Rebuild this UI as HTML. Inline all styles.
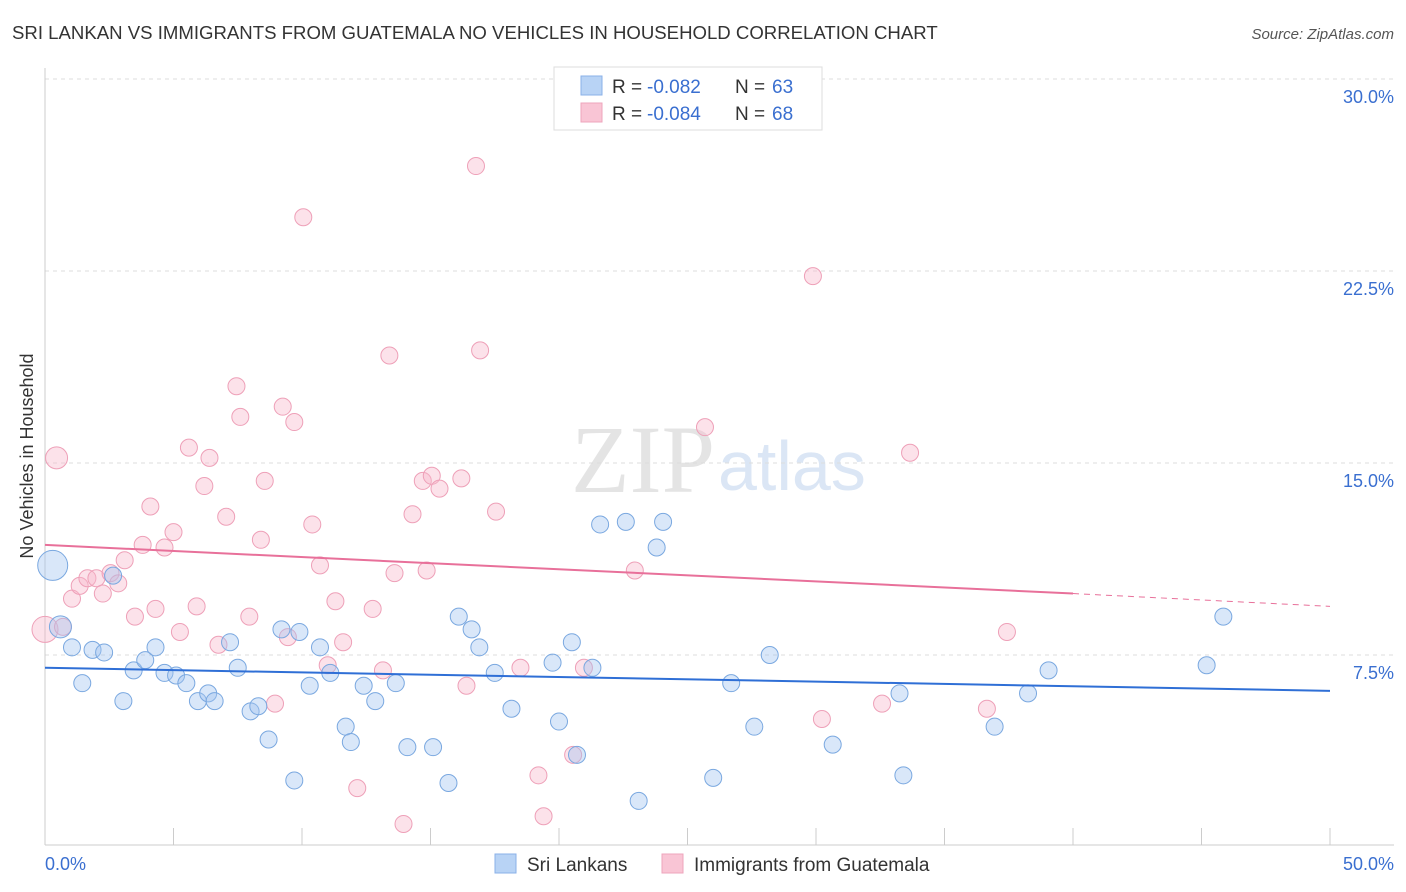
<!DOCTYPE html>
<html><head><meta charset="utf-8"><style>
body{margin:0;background:#fff;font-family:"Liberation Sans",sans-serif;}
svg{display:block}
</style></head><body>
<svg id="chart" width="1406" height="892" xmlns="http://www.w3.org/2000/svg">
<text x="12" y="39" font-size="18.6" fill="#333">SRI LANKAN VS IMMIGRANTS FROM GUATEMALA NO VEHICLES IN HOUSEHOLD CORRELATION CHART</text>
<text x="1394" y="39" font-size="15" fill="#555" font-style="italic" text-anchor="end">Source: ZipAtlas.com</text>
<text x="715" y="492" font-size="96" fill="#e4e4e4" text-anchor="end" font-family="Liberation Serif">ZIP</text>
<text x="718" y="490" font-size="70" fill="#dbe6f5">atlas</text>
<g id="grid"></g>
<g id="axes"></g>
<g id="pts"></g>
<g id="trend"></g>
<text x="33" y="456" font-size="18" fill="#333" text-anchor="middle" transform="rotate(-90 33 456)">No Vehicles in Household</text>
<text x="45" y="870" font-size="18" fill="#3a6fd0">0.0%</text>
<text x="1394" y="870" font-size="18" fill="#3a6fd0" text-anchor="end">50.0%</text>
<g>
<rect x="554" y="67" width="268" height="63" fill="#fff" stroke="#ddd"/>
<rect x="581" y="76" width="21" height="19" fill="#b8d3f5" stroke="#8ab0e8"/>
<text x="612" y="93" font-size="19" fill="#333">R =</text>
<text x="647" y="93" font-size="19" fill="#3a6fd0">-0.082</text>
<text x="735" y="93" font-size="19" fill="#333">N =</text>
<text x="772" y="93" font-size="19" fill="#3a6fd0">63</text>
<rect x="581" y="103" width="21" height="19" fill="#f9c5d5" stroke="#eea5bc"/>
<text x="612" y="120" font-size="19" fill="#333">R =</text>
<text x="647" y="120" font-size="19" fill="#3a6fd0">-0.084</text>
<text x="735" y="120" font-size="19" fill="#333">N =</text>
<text x="772" y="120" font-size="19" fill="#3a6fd0">68</text>
</g>
<g>
<rect x="495" y="854" width="21" height="19" fill="#b8d3f5" stroke="#8ab0e8"/>
<text x="527" y="871" font-size="19" fill="#333">Sri Lankans</text>
<rect x="662" y="854" width="21" height="19" fill="#f9c5d5" stroke="#eea5bc"/>
<text x="694" y="871" font-size="19" fill="#333">Immigrants from Guatemala</text>
</g>
</svg>
<script>
const yTicks=[7.5,15,22.5,30];
const yTickLabels=["7.5%","15.0%","22.5%","30.0%"];
const xTicks=[0,5,10,15,20,25,30,35,40,45,50];
const blueX=[0.3,0.6,1.05,1.45,1.85,2.3,2.65,3.05,3.45,3.9,4.3,4.65,5.1,5.5,5.95,6.35,6.6,7.2,7.5,8.0,8.3,8.7,9.2,9.7,9.9,10.3,10.7,11.1,11.7,11.9,12.4,12.85,13.65,14.1,15.1,15.7,16.1,16.6,16.9,17.5,18.15,19.75,20.0,20.5,20.7,21.3,21.6,22.6,23.1,23.8,24.05,26.0,26.7,27.6,28.2,30.65,33.25,33.4,36.95,38.25,39.05,45.2,45.85];
const blueY=[11.0,8.6,7.8,6.4,7.7,7.6,10.6,5.7,6.9,7.3,7.8,6.8,6.7,6.4,5.7,6.0,5.7,8.0,7.0,5.3,5.5,4.2,8.5,2.6,8.4,6.3,7.8,6.8,4.7,4.1,6.3,5.7,6.4,3.9,3.9,2.5,9.0,8.5,7.8,6.8,5.4,7.2,4.9,8.0,3.6,7.0,12.6,12.7,1.8,11.7,12.7,2.7,6.4,4.7,7.5,4.0,6.0,2.8,4.7,6.0,6.9,7.1,9.0];
const pinkX=[0.0,0.45,0.7,1.05,1.35,1.65,2.0,2.25,2.55,2.85,3.1,3.5,3.8,4.1,4.3,4.65,5.0,5.25,5.6,5.9,6.2,6.4,6.75,7.05,7.45,7.6,7.95,8.4,8.55,8.95,9.25,9.45,9.7,10.05,10.4,10.7,11.0,11.3,11.6,12.15,12.75,13.15,13.4,13.6,13.95,14.3,14.7,14.85,15.05,15.35,16.2,16.4,16.77,16.93,17.55,18.5,19.2,19.4,20.55,20.97,22.95,25.68,29.88,30.23,32.57,33.66,36.65,37.43];
const pinkY=[8.5,15.2,8.6,9.7,10.2,10.5,10.5,9.9,10.7,10.3,11.2,9.0,11.8,13.3,9.3,11.7,12.3,8.4,15.6,9.4,14.1,15.2,7.9,12.9,18.0,16.8,9.0,12.0,14.3,5.6,17.2,8.2,16.6,24.6,12.6,11.0,7.1,9.6,8.0,2.3,9.3,6.9,19.2,10.7,0.9,13.0,14.3,10.8,14.5,14.0,14.4,6.3,26.6,19.4,13.1,7.0,2.8,1.2,3.6,7.0,10.8,16.4,22.3,5.0,5.6,15.4,5.4,8.4];
const X=v=>45+v/50*1285, Y=v=>847-v/7.5*192;
const ns="http://www.w3.org/2000/svg";
function mk(tag,attrs,parent){const e=document.createElementNS(ns,tag);for(const k in attrs)e.setAttribute(k,attrs[k]);parent.appendChild(e);return e;}
const grid=document.getElementById('grid'),axes=document.getElementById('axes'),pts=document.getElementById('pts'),trend=document.getElementById('trend');
yTicks.forEach((t,i)=>{
 const l=mk('line',{x1:45,x2:1394,y1:Y(t),y2:Y(t),stroke:'#ddd','stroke-dasharray':'4,4'},grid);
 
 
 const tx=mk('text',{x:1394,y:Y(t)+24,'font-size':18,fill:'#3a6fd0','text-anchor':'end'},grid);
 tx.textContent=yTickLabels[i];
 
 
});
const ya=mk('line',{x1:45,x2:45,y1:68,y2:845,stroke:'#ccc'},axes);


const xa=mk('line',{x1:45,x2:1394,y1:845,y2:845,stroke:'#ccc'},axes);


xTicks.forEach(t=>{
 const l=mk('line',{x1:X(t),x2:X(t),y1:828,y2:845,stroke:'#ccc'},axes);
 
 
});
function dots(xs,ys,fill,stroke,name){
 xs.forEach((x,i)=>{
  let r=8.5; if(i===0) r=name==='blue-point'?15:13; else if(i===1)r=11;
  const c=mk('circle',{cx:X(x),cy:Y(ys[i]),r:r,fill:fill,stroke:stroke,'stroke-width':1},pts);
  
  
 });
}
dots(pinkX,pinkY,'rgba(248,182,202,0.4)','#eea0b8','pink-point');
dots(blueX,blueY,'rgba(160,196,240,0.4)','#7aa8e0','blue-point');
const b=mk('line',{x1:X(0),y1:Y(7.0),x2:X(50),y2:Y(6.1),stroke:'#2f6fd6','stroke-width':2},trend);


const p=mk('line',{x1:X(0),y1:Y(11.8),x2:X(40),y2:Y(9.9),stroke:'#e8709a','stroke-width':2},trend);


const pd=mk('line',{x1:X(40),y1:Y(9.9),x2:X(50),y2:Y(9.4),stroke:'#e8709a','stroke-width':1,'stroke-dasharray':'6,5'},trend);


</script>
</body></html>
